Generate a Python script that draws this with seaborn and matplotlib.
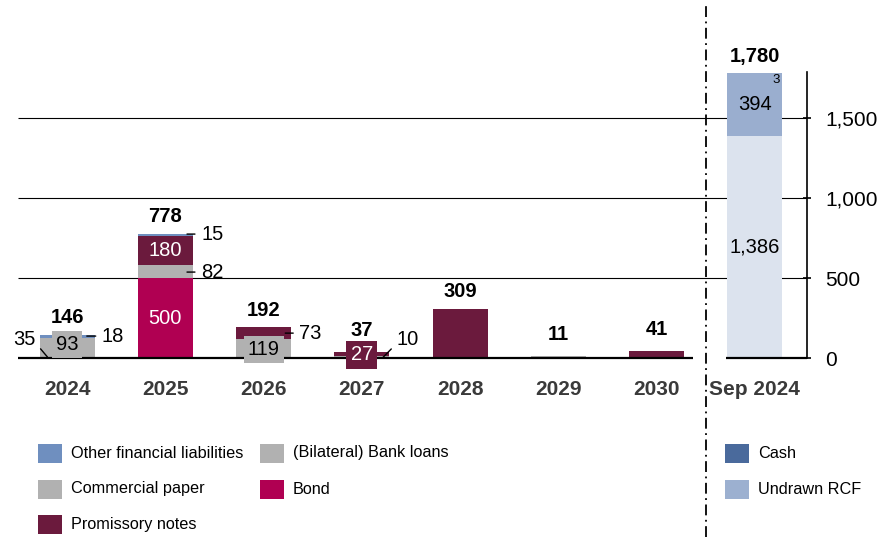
import numpy as np
import matplotlib
matplotlib.use("Agg")
import matplotlib.pyplot as plt
from matplotlib.patches import Rectangle
from matplotlib.lines import Line2D
import seaborn as sns

# data (EUR m)
years = ['2024', '2025', '2026', '2027', '2028', '2029', '2030']
bond = [0, 500, 0, 0, 0, 0, 0]
bank_loans = [35, 82, 119, 10, 0, 11, 0]
commercial_paper = [93, 0, 0, 0, 0, 0, 0]
promissory_notes = [0, 180, 73, 27, 309, 0, 41]
other_liabilities = [18, 15, 0, 0, 0, 0, 0]
totals = [146, 778, 192, 37, 309, 11, 41]

liq_label = 'Sep 2024'
undrawn_rcf = 1386
cash = 394
liq_total = 1780

yticks = [0, 500, 1000, 1500]

c_other = '#6f8fbf'
c_grey = '#b1b1b1'
c_bond = '#b00052'
c_prom = '#6b1a3d'
c_cash_leg = '#4a6a9c'
c_rcf_leg = '#9cb0d0'
c_cash_bar = '#9aaecf'
c_rcf_bar = '#dce3ee'

sns.set_style('white')
plt.rcParams['font.family'] = ['Liberation Sans', 'DejaVu Sans']
plt.rcParams['text.color'] = 'black'

fig = plt.figure(figsize=(8.94, 5.37), dpi=100)
ax = fig.add_axes([18 / 894, 179 / 537, 789 / 894, 320 / 537])

order = years + [liq_label]
n = len(order)
width = 0.56


def full(vals, last=0):
	return np.array(list(vals) + [last], dtype=float)


series = [
	(full(bond), c_bond),
	(full(bank_loans), c_grey),
	(full(commercial_paper), c_grey),
	(full(promissory_notes), c_prom),
	(full(other_liabilities), c_other),
	(np.array([0] * len(years) + [undrawn_rcf], dtype=float), c_rcf_bar),
	(np.array([0] * len(years) + [cash], dtype=float), c_cash_bar),
]

bottom = np.zeros(n)
for vals, col in series:
	sns.barplot(x=order, y=vals, order=order, bottom=bottom, color=col, saturation=1,
				width=width, errorbar=None, linewidth=0, zorder=3, ax=ax)
	bottom = bottom + vals

ax.set_xlim(-0.5, 7.53)
ax.set_ylim(0, 2000)
ax.set_xlabel('')
ax.set_ylabel('')

# gridlines and baseline
ax.hlines([500, 1000, 1500], -0.5, 7.53, color='black', lw=0.8, zorder=1)
ax.plot([-0.5, 6.37], [0, 0], color='black', lw=1.6, zorder=4, clip_on=False, solid_capstyle='butt')
ax.plot([6.71, 7.53], [0, 0], color='black', lw=1.6, zorder=4, clip_on=False, solid_capstyle='butt')

for s in ['top', 'left', 'bottom']:
	ax.spines[s].set_visible(False)
ax.spines['right'].set_bounds(0, 1790)
ax.spines['right'].set_linewidth(1.2)
ax.spines['right'].set_color('black')

ax.yaxis.tick_right()
ax.set_yticks(yticks)
ax.set_yticklabels([f'{v:,}' for v in yticks])
ax.tick_params(axis='y', direction='inout', length=6, width=1.2, pad=10, labelsize=15,
			   colors='black', right=True, left=False)

ax.set_xticks(range(n))
ax.set_xticklabels(order, fontweight='bold', color='#3a3a3a')
ax.tick_params(axis='x', length=0, pad=16, labelsize=15)
ax.set_xticks(np.arange(-0.5, 6, 1), minor=True)
ax.tick_params(axis='x', which='minor', direction='out', length=4, width=1.4, color='black')

# totals (small bars get a bit more room)
for i, t in enumerate(totals):
	off = 22 if t < 50 else 17
	ax.annotate(f'{t:,}', (i, t), xytext=(0, off), textcoords='offset pixels',
				ha='center', va='center', fontsize=14.5, fontweight='bold', color='black', zorder=6)
ax.annotate(f'{liq_total:,}', (7, liq_total), xytext=(0, 17), textcoords='offset pixels',
			ha='center', va='center', fontsize=14.5, fontweight='bold', color='black', zorder=6)

# labels inside segments
def inner(x, y, text, color='black', box=None, pad=0.1):
	kw = {}
	if box is not None:
		kw['bbox'] = dict(boxstyle=f'square,pad={pad}', fc=box, ec='none')
	ax.text(x, y, text, ha='center', va='center', fontsize=14.5, color=color, zorder=6, **kw)

inner(0, bank_loans[0] + commercial_paper[0] / 2, f'{commercial_paper[0]}', box=c_grey, pad=0.2)
inner(1, bond[1] / 2, f'{bond[1]}', color='white')
inner(1, bond[1] + bank_loans[1] + promissory_notes[1] / 2, f'{promissory_notes[1]}', color='white')
inner(2, bank_loans[2] / 2 - 8, f'{bank_loans[2]}', box=c_grey, pad=0.2)
inner(3, bank_loans[3] + promissory_notes[3] / 2 - 4, f'{promissory_notes[3]}', color='white', box=c_prom, pad=0.22)
inner(7, undrawn_rcf / 2, f'{undrawn_rcf:,}')
inner(7, undrawn_rcf + cash / 2, f'{cash}')
ax.text(7.22, 1740, '3', ha='center', va='center', fontsize=9.5, zorder=6)

# labels with leader lines
def leader(x, y, text, dx, dy, ha, relpos):
	ax.annotate(text, (x, y), xytext=(dx, dy), textcoords='offset pixels', ha=ha, va='center',
				fontsize=14.5, zorder=6, annotation_clip=False,
				arrowprops=dict(arrowstyle='-', lw=1, color='black', shrinkA=2, shrinkB=0,
								relpos=relpos))

leader(-0.2, 6, f'{bank_loans[0]}', -12, 18, 'right', (1, 0.3))
leader(0.2, bank_loans[0] + commercial_paper[0] + other_liabilities[0] / 2, f'{other_liabilities[0]}', 15, 0, 'left', (0, 0.5))
leader(1.22, bond[1] + bank_loans[1] + promissory_notes[1] + other_liabilities[1] / 2 + 5, f'{other_liabilities[1]}', 14, 0, 'left', (0, 0.5))
leader(1.22, bond[1] + bank_loans[1] / 2 - 4, f'{bank_loans[1]}', 14, 0, 'left', (0, 0.5))
leader(2.22, bank_loans[2] + promissory_notes[2] / 2, f'{promissory_notes[2]}', 14, 0, 'left', (0, 0.5))
leader(3.21, 1, f'{bank_loans[3]}', 14, 18, 'left', (0, 0.3))

# separator between maturities and liquidity
fig.add_artist(Line2D([706 / 894, 706 / 894], [0, 0.99], transform=fig.transFigure, color='black',
					  lw=1.3, dashes=(6, 2.5, 1, 2.5)))

# legend
def leg(x, y, color, label):
	fig.add_artist(Rectangle((x / 894, 1 - (y + 10) / 537), 24 / 894, 19 / 537,
							 transform=fig.transFigure, fc=color, ec='none'))
	fig.text((x + 33) / 894, 1 - y / 537, label, va='center', ha='left', fontsize=11.7, color='black')

leg(38, 453, c_other, 'Other financial liabilities')
leg(38, 489, c_grey, 'Commercial paper')
leg(38, 524, c_prom, 'Promissory notes')
leg(260, 453, c_grey, '(Bilateral) Bank loans')
leg(260, 489, c_bond, 'Bond')
leg(725, 453, c_cash_leg, 'Cash')
leg(725, 489, c_rcf_leg, 'Undrawn RCF')

fig.savefig('out.png', dpi=100)
